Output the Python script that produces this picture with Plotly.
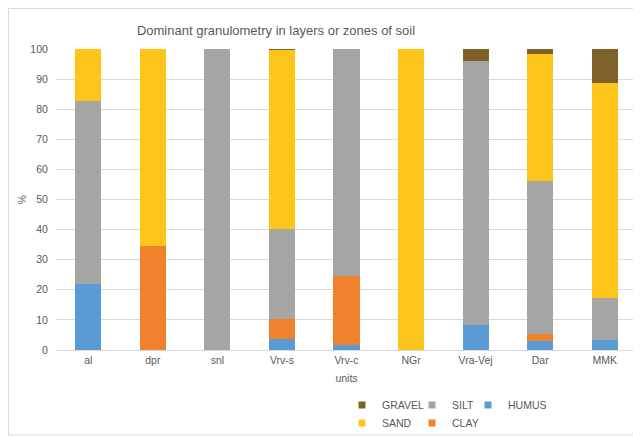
import plotly.graph_objects as go

categories = ["al", "dpr", "snl", "Vrv-s", "Vrv-c", "NGr", "Vra-Vej", "Dar", "MMK"]
humus = [21.8, 0, 0, 3.7, 1.6, 0, 8.3, 3.0, 3.4]
clay = [0, 34.7, 0, 6.5, 23.1, 0, 0, 2.2, 0]
silt = [60.9, 0, 100, 30.1, 75.3, 0, 87.6, 50.8, 13.9]
sand = [17.3, 65.3, 0, 59.4, 0, 100, 0, 42.2, 71.4]
gravel = [0, 0, 0, 0.3, 0, 0, 4.1, 1.8, 11.3]

series = [
    ("HUMUS", humus, "#5B9BD5", "legend3"),
    ("CLAY", clay, "#F0822E", "legend5"),
    ("SILT", silt, "#A5A5A5", "legend2"),
    ("SAND", sand, "#FDC51A", "legend4"),
    ("GRAVEL", gravel, "#7F612A", "legend"),
]

# page body has an 8px margin; figure coordinates = screen - 8
OFF = 8
W, H = 641 - OFF, 436 - OFF
L, R, T, B = 56 - OFF, 4, 49 - OFF, 86
pw, ph = W - L - R, H - T - B

def px(x):
    return (x - OFF - L) / pw

def py(y):
    return (H - B - (y - OFF)) / ph

fig = go.Figure()
for name, vals, color, lg in series:
    fig.add_trace(go.Bar(x=categories, y=vals, name=name, marker=dict(color=color, line=dict(width=0)),
                         showlegend=False, legendgroup=name))
for name, vals, color, lg in series:
    # legend key (small square swatch) for each series
    fig.add_trace(go.Scatter(x=[None], y=[None], mode="markers", name=name, legendgroup=name,
                             marker=dict(symbol="square", size=7, color=color, line=dict(width=0)),
                             legend=lg, showlegend=True))

font = dict(family="Liberation Sans, Arial, sans-serif", color="#595959")
leg_common = dict(orientation="h", xref="container", yref="container", xanchor="left", yanchor="middle",
                  bgcolor="rgba(0,0,0,0)", font=dict(size=10.5, **font), itemwidth=30)
mx = 342
pos = {"legend": (mx, 405), "legend2": (mx + 70, 405), "legend3": (mx + 126, 405),
       "legend4": (mx, 423), "legend5": (mx + 70, 423)}
legs = {k: dict(x=(v[0] - OFF) / W, y=1 - (v[1] - OFF) / H, **leg_common) for k, v in pos.items()}

fig.update_layout(
    width=W, height=H,
    margin=dict(l=L, r=R, t=T, b=B, autoexpand=False),
    barmode="stack", bargap=0.597,
    paper_bgcolor="white", plot_bgcolor="white",
    font=dict(size=10.5, **font),
    title=dict(text="Dominant granulometry in layers or zones of soil", x=(276 - OFF) / W,
               xanchor="center", y=1 - (30 - OFF) / H, yanchor="middle",
               font=dict(size=13, **font)),
    xaxis=dict(showline=True, linecolor="#D9D9D9", linewidth=1, showgrid=False, ticks="",
               title=dict(text="units", font=dict(size=10.5, **font), standoff=10),
               tickfont=dict(size=10.5, **font)),
    yaxis=dict(range=[0, 100], dtick=10, gridcolor="#D9D9D9", gridwidth=1, zeroline=False,
               showline=False, ticks="outside", ticklen=5, tickcolor="rgba(0,0,0,0)",
               tickfont=dict(size=10.5, **font),
               title=dict(text="%", font=dict(size=10.5, **font), standoff=1)),
    showlegend=True,
    shapes=[dict(type="rect", xref="paper", yref="paper", x0=px(8.5), x1=px(660), y0=py(435), y1=py(8.5),
                 line=dict(color="#D9D9D9", width=1), fillcolor="rgba(0,0,0,0)", layer="below")],
    **legs,
)

fig.write_html("out.html")
